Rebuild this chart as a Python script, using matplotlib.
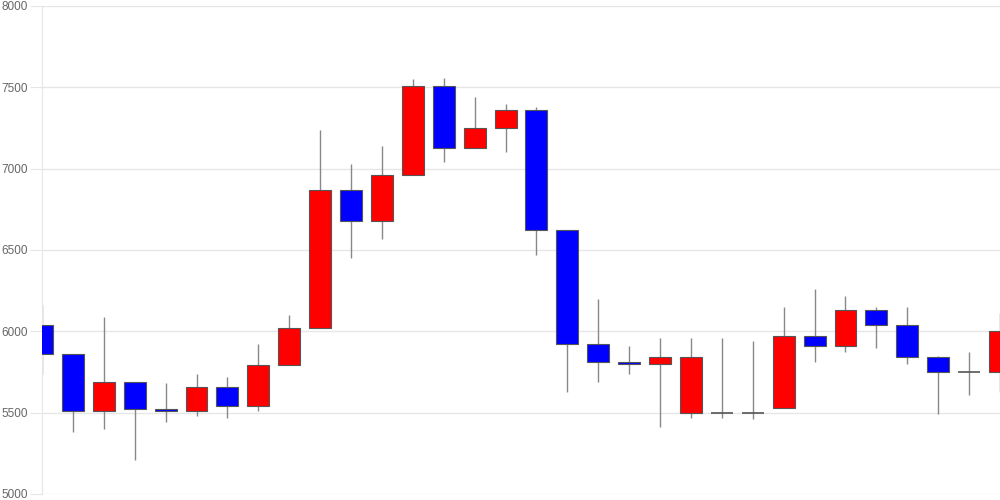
import matplotlib
matplotlib.use("Agg")
import matplotlib.pyplot as plt
import numpy as np

# daily prices (open, close, high, low)
opens  = [6040, 5860, 5510, 5690, 5520, 5510, 5660, 5540, 5790, 6020,
          6870, 6680, 6960, 7510, 7130, 7250, 7360, 6620, 5920, 5810,
          5800, 5500, 5500, 5500, 5530, 5970, 5910, 6130, 6040, 5840,
          5750, 5750]
closes = [5860, 5510, 5690, 5520, 5510, 5660, 5540, 5790, 6020, 6870,
          6680, 6960, 7510, 7130, 7250, 7360, 6620, 5920, 5810, 5800,
          5840, 5840, 5500, 5500, 5970, 5910, 6130, 6040, 5840, 5750,
          5750, 6000]
highs  = [6160, 5860, 6090, 5690, 5680, 5740, 5720, 5920, 6100, 7240,
          7030, 7140, 7550, 7560, 7440, 7400, 7380, 6620, 6200, 5910,
          5960, 5960, 5960, 5940, 6150, 6260, 6220, 6150, 6150, 5850,
          5870, 6110]
lows   = [5740, 5380, 5400, 5210, 5440, 5480, 5470, 5510, 5790, 6020,
          6450, 6570, 6960, 7040, 7130, 7100, 6470, 5630, 5690, 5740,
          5410, 5470, 5470, 5460, 5530, 5810, 5870, 5900, 5800, 5490,
          5610, 5630]
yticks = [5000, 5500, 6000, 6500, 7000, 7500, 8000]

up_color = "#ff0000"
down_color = "#0000ff"
grid_color = "#e6e6e6"

fig = plt.figure(figsize=(10, 5), dpi=100)
ax = fig.add_axes([0.042, 0.012, 0.958, 0.976])

x = np.arange(len(opens))
width = 0.71
for i in x:
    o, c, h, l = opens[i], closes[i], highs[i], lows[i]
    ax.vlines(i, l, h, color="#888888", linewidth=1, zorder=2)
    bottom = min(o, c)
    height = abs(c - o)
    if height == 0:
        ax.hlines(o, i - width / 2, i + width / 2, color="#555555", linewidth=1.2, zorder=3)
        continue
    col = up_color if c > o else down_color
    ax.bar(i, height, width, bottom=bottom, color=col, edgecolor="#555555",
           linewidth=0.8, zorder=3)

ax.set_xlim(0, len(opens) - 1)
ax.set_ylim(5000, 8000)
ax.set_yticks(yticks)
ax.set_yticklabels([str(v) for v in yticks], fontsize=8.5, color="#666666",
                   family="Liberation Sans")
ax.set_xticks([])
ax.yaxis.grid(True, color=grid_color, linewidth=1)
ax.set_axisbelow(True)
ax.tick_params(axis="y", length=9, color=grid_color, pad=1)
for s in ["top", "right", "bottom"]:
    ax.spines[s].set_visible(False)
ax.spines["left"].set_color(grid_color)

fig.savefig("out.png", dpi=100)
